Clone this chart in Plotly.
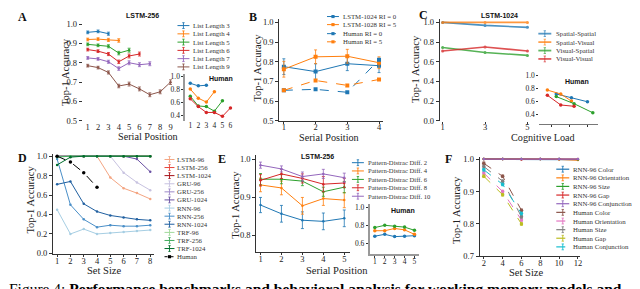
import plotly.graph_objects as go

W, H = 640, 289
SERIF = "Liberation Serif"
SANS = "Liberation Sans"

def PX(x):
    return x / W

def PY(y):
    return 1 - y / H

# ---------------- data ----------------
# Panel A (LSTM-256, list length)
a_labels = ["List Length 3", "List Length 4", "List Length 5", "List Length 6", "List Length 7", "List Length 9"]
a_ll3 = [0.957, 0.962, 0.950]
a_ll4 = [0.920, 0.922, 0.918, 0.915]
a_ll5 = [0.895, 0.890, 0.885, 0.850, 0.865]
a_ll6 = [0.868, 0.860, 0.845, 0.805, 0.835, 0.845]
a_ll7 = [0.825, 0.820, 0.805, 0.770, 0.800, 0.790, 0.795]
a_ll9 = [0.785, 0.775, 0.750, 0.680, 0.690, 0.665, 0.635, 0.650, 0.700]
a_err = [0.007, 0.007, 0.008, 0.009, 0.010, 0.010, 0.010, 0.010, 0.012]
a_h3 = [0.89, 0.85, 0.86]
a_h4 = [0.80, 0.66, 0.60, 0.76]
a_h5 = [0.69, 0.54, 0.53, 0.46, 0.62]
a_h6 = [0.65, 0.53, 0.44, 0.44, 0.38, 0.51]

# Panel B (LSTM-1024 vs human, retention interval)
b_labels = ["LSTM-1024 RI = 0", "LSTM-1028 RI = 5", "Human RI = 0", "Human RI = 5"]
b_pos = [1, 2, 3, 4]
b_lstm_ri0 = [0.775, 0.750, 0.790, 0.780]
b_lstm_ri0_err = [0.040, 0.040, 0.035, 0.035]
b_lstm_ri5 = [0.762, 0.825, 0.828, 0.795]
b_lstm_ri5_err = [0.040, 0.035, 0.035, 0.030]
b_human_ri0 = [0.655, 0.660, 0.645, 0.810]
b_human_ri5 = [0.655, 0.705, 0.680, 0.710]

# Panel C (LSTM-1024, cognitive load)
c_labels = ["Spatial-Spatial", "Spatial-Visual", "Visual-Spatial", "Visual-Visual"]
c_load = [1, 3, 5]
c_ss = [1.000, 0.970, 0.950]
c_sv = [1.000, 1.000, 1.000]
c_vs = [0.745, 0.695, 0.665]
c_vv = [0.710, 0.750, 0.710]
c_h_ss_x = [2.5, 4.2, 6.0]
c_h_ss = [0.72, 0.66, 0.60]
c_h_sv_x = [1.5, 3.0, 4.2]
c_h_sv = [0.78, 0.72, 0.61]
c_h_vs_x = [2.5, 4.5, 6.6]
c_h_vs = [0.68, 0.57, 0.43]
c_h_vv_x = [1.5, 3.0, 4.5]
c_h_vv = [0.70, 0.55, 0.53]

# Panel D (set size)
d_labels = ["LSTM-96", "LSTM-256", "LSTM-1024", "GRU-96", "GRU-256", "GRU-1024",
            "RNN-96", "RNN-256", "RNN-1024", "TRF-96", "TRF-256", "TRF-1024", "Human"]
d_set = [1, 2, 3, 4, 5, 6, 7, 8]
d_lstm96 = [1.00, 1.00, 1.00, 1.00, 0.78, 0.67, 0.62, 0.56]
d_lstm256 = [1.00, 1.00, 1.00, 1.00, 1.00, 1.00, 1.00, 1.00]
d_lstm1024 = [1.00, 1.00, 1.00, 1.00, 1.00, 1.00, 1.00, 1.00]
d_gru96 = [1.00, 1.00, 1.00, 1.00, 1.00, 0.83, 0.73, 0.65]
d_gru256 = [1.00, 1.00, 1.00, 1.00, 1.00, 1.00, 1.00, 1.00]
d_gru1024 = [1.00, 1.00, 1.00, 1.00, 1.00, 1.00, 0.97, 0.84]
d_rnn96 = [0.45, 0.20, 0.25, 0.20, 0.21, 0.22, 0.23, 0.24]
d_rnn256 = [0.97, 0.50, 0.35, 0.27, 0.29, 0.28, 0.28, 0.29]
d_rnn1024 = [0.71, 0.74, 0.51, 0.43, 0.39, 0.37, 0.35, 0.34]
d_trf96 = [1.00, 1.00, 1.00, 1.00, 1.00, 1.00, 1.00, 1.00]
d_trf256 = [0.99, 1.00, 1.00, 1.00, 1.00, 1.00, 1.00, 1.00]
d_trf1024 = [0.91, 0.99, 1.00, 1.00, 1.00, 1.00, 1.00, 1.00]
d_human_set = [1, 2, 3, 4]
d_human = [1.00, 0.94, 0.83, 0.68]

# Panel E (pattern-distractor difference)
e_labels = ["Pattern-Distrac Diff. 2", "Pattern-Distrac Diff. 4", "Pattern-Distrac Diff. 6",
            "Pattern-Distrac Diff. 8", "Pattern-Distrac Diff. 10"]
e_pos = [1, 2, 3, 4, 5]
e_d2 = [0.880, 0.857, 0.840, 0.837, 0.845]
e_d4 = [0.933, 0.925, 0.878, 0.897, 0.893]
e_d6 = [0.948, 0.948, 0.943, 0.915, 0.927]
e_d8 = [0.945, 0.962, 0.950, 0.935, 0.938]
e_d10 = [0.985, 0.975, 0.955, 0.962, 0.952]
e_err2 = [0.020, 0.022, 0.022, 0.022, 0.022]
e_err4 = [0.018, 0.018, 0.022, 0.018, 0.020]
e_err6 = [0.015, 0.012, 0.012, 0.012, 0.015]
e_err8 = [0.015, 0.012, 0.012, 0.020, 0.012]
e_err10 = [0.008, 0.008, 0.012, 0.012, 0.012]
e_h2 = [0.680, 0.700, 0.675, 0.680, 0.685]
e_h4 = [0.740, 0.740, 0.765, 0.750, 0.700]
e_h6 = [0.775, 0.800, 0.790, 0.780, 0.745]

# Panel F (visual search)
f_labels = ["RNN-96 Color", "RNN-96 Orientation", "RNN-96 Size", "RNN-96 Gap", "RNN-96 Conjunction",
            "Human Color", "Human Orientation", "Human Size", "Human Gap", "Human Conjunction"]
f_set = [2, 4, 6, 8, 10, 12]
f_rnn_color = [1.000, 1.000, 1.000, 1.000, 1.000, 0.998]
f_rnn_orient = [1.000, 1.000, 1.000, 1.000, 0.999, 0.997]
f_rnn_size = [1.000, 1.000, 1.000, 1.000, 1.000, 0.999]
f_rnn_gap = [1.000, 1.000, 0.999, 1.000, 1.000, 1.000]
f_rnn_conj = [1.000, 1.000, 1.000, 1.000, 1.000, 1.000]
f_h_set = [2, 4, 6]
f_h_color = [0.987, 0.947, 0.842]
f_h_orient = [0.957, 0.900, 0.812]
f_h_size = [0.977, 0.932, 0.822]
f_h_gap = [0.947, 0.890, 0.800]
f_h_conj = [0.967, 0.922, 0.832]

TAB = ["#1f77b4", "#ff7f0e", "#2ca02c", "#d62728", "#9467bd",
       "#8c564b", "#e377c2", "#7f7f7f", "#bcbd22", "#17becf"]
D_COLORS = ["#f4a582", "#e8463a", "#a50f15", "#c7c2e0", "#9e8ac8", "#6a51a3",
            "#a6cee3", "#4a8fc8", "#1f5fa0", "#a1d99b", "#41ab5d", "#006d2c", "#000000"]

fig = go.Figure()
layout_axes = {}
shapes = []
annotations = []


def add_axes(n, x0, x1, y0, y1, xr, yr, xticks, yticks, xshow=True, yshow=True,
             xline=False, yline=False, xlinecolor="#333", ylinecolor="#333",
             xlinewidth=0.8, ylinewidth=0.8, tfs=8.5, xtickvals_labels=True, xticklen=2, yticklen=3,
             xstand=-3):
    sx = "" if n == 1 else str(n)
    layout_axes["xaxis" + sx] = dict(
        domain=[PX(x0), PX(x1)], range=xr, anchor="y" + sx,
        tickvals=xticks, showticklabels=xtickvals_labels, ticks="outside" if xticklen else "",
        ticklen=max(xticklen, 1), tickwidth=0.8, tickcolor="#333", showgrid=False, zeroline=False,
        showline=xline, linecolor=xlinecolor, linewidth=xlinewidth, ticklabelstandoff=xstand,
        tickfont=dict(family=SERIF, size=tfs, color="#222"), visible=xshow)
    layout_axes["yaxis" + sx] = dict(
        domain=[PY(y1), PY(y0)], range=yr, anchor="x" + sx,
        tickvals=yticks, ticktext=["%.1f" % v for v in yticks], ticks="outside" if yticklen else "",
        ticklen=max(yticklen, 1), tickwidth=0.8, tickcolor="#333", showgrid=False, zeroline=False,
        showline=yline, linecolor=ylinecolor, linewidth=ylinewidth,
        tickfont=dict(family=SERIF, size=tfs, color="#222"), visible=yshow)
    return "x" + sx, "y" + sx


def line(xa, ya, x, y, color, err=None, dash="solid", width=1.0, msize=3, symbol="circle",
         opacity=1.0, mode="lines+markers"):
    kw = {}
    if err is not None:
        kw["error_y"] = dict(type="data", array=err, thickness=0.8, width=1.5, color=color)
    fig.add_trace(go.Scatter(x=x, y=y, xaxis=xa, yaxis=ya, mode=mode, opacity=opacity,
                             line=dict(color=color, width=width, dash=dash),
                             marker=dict(color=color, size=msize, symbol=symbol),
                             showlegend=False, hoverinfo="skip", **kw))


def text(x, y, s, size=8, family=SERIF, bold=False, color="#222", angle=0, xanchor="center",
         yanchor="middle"):
    if bold:
        s = "<b>" + s + "</b>"
    annotations.append(dict(x=PX(x), y=PY(y), xref="paper", yref="paper", text=s, showarrow=False,
                            font=dict(family=family, size=size, color=color), textangle=angle,
                            xanchor=xanchor, yanchor=yanchor, borderpad=0))


def leg(x0, x1, y, color, label, tx, dash="solid", width=1.0, cap=True, square=False, fs=6.8,
        opacity=1.0):
    shapes.append(dict(type="line", xref="paper", yref="paper", x0=PX(x0), x1=PX(x1), y0=PY(y), y1=PY(y),
                       line=dict(color=color, width=width, dash=dash), opacity=opacity))
    xm = (x0 + x1) / 2
    if cap:
        shapes.append(dict(type="line", xref="paper", yref="paper", x0=PX(xm), x1=PX(xm),
                           y0=PY(y - 3), y1=PY(y + 3), line=dict(color=color, width=0.9), opacity=opacity))
        shapes.append(dict(type="line", xref="paper", yref="paper", x0=PX(xm - 1.2), x1=PX(xm + 1.2),
                           y0=PY(y - 3), y1=PY(y - 3), line=dict(color=color, width=0.8), opacity=opacity))
        shapes.append(dict(type="line", xref="paper", yref="paper", x0=PX(xm - 1.2), x1=PX(xm + 1.2),
                           y0=PY(y + 3), y1=PY(y + 3), line=dict(color=color, width=0.8), opacity=opacity))
    if square:
        shapes.append(dict(type="rect", xref="paper", yref="paper", x0=PX(xm - 1.6), x1=PX(xm + 1.6),
                           y0=PY(y - 1.6), y1=PY(y + 1.6), fillcolor=color, line=dict(width=0)))
    text(tx, y, label, size=fs, xanchor="left", color="#333")


# ---------------- Panel A ----------------
xa, ya = add_axes(1, 75, 168, 10, 116, [0.52, 9.48], [0.485, 1.017],
                  list(range(1, 10)), [0.5, 0.6, 0.7, 0.8, 0.9, 1.0], xticklen=0)
a_series = [a_ll3, a_ll4, a_ll5, a_ll6, a_ll7, a_ll9]
for i, s in enumerate(a_series):
    xs = list(range(1, len(s) + 1))
    line(xa, ya, xs, s, TAB[i], err=a_err[:len(s)], msize=2.5)
xa, ya = add_axes(2, 178, 228, 65, 113, [0.4, 6.6], [0.31, 1.03], [1, 2, 3, 4, 5, 6],
                  [0.4, 0.6, 0.8, 1.0], yline=True, ylinecolor="#999", ylinewidth=2, tfs=7.5,
                  xticklen=0, yticklen=2, xstand=-1)
for i, s in enumerate([a_h3, a_h4, a_h5, a_h6]):
    line(xa, ya, list(range(1, len(s) + 1)), s, TAB[i], msize=3.5)
text(135, 5, "LSTM-256", size=7, family=SANS, bold=True, color="#111")
text(214, 69, "Human", size=7, family=SANS, bold=True, color="#111")
text(15, 6, "A", size=12, bold=True, color="#111")
text(57, 63, "Top-1 Accuracy", size=10.5, angle=-90)
text(140, 129.5, "Serial Position", size=10.2)
for i, lab in enumerate(a_labels):
    leg(170, 182, [15, 23.5, 32, 40.5, 49, 57.5][i], TAB[i], lab, 185)

# ---------------- Panel B ----------------
xa, ya = add_axes(3, 272, 376, 8, 113, [0.852, 4.12], [0.5, 1.018], b_pos,
                  [0.5, 0.6, 0.7, 0.8, 0.9, 1.0], xline=True, yline=True, xstand=-4)
line(xa, ya, b_pos, b_lstm_ri0, TAB[0], err=b_lstm_ri0_err, msize=4, symbol="square")
line(xa, ya, b_pos, b_lstm_ri5, TAB[1], err=b_lstm_ri5_err, msize=4, symbol="square")
line(xa, ya, b_pos, b_human_ri0, TAB[0], dash="dash", msize=4, symbol="square")
line(xa, ya, b_pos, b_human_ri5, TAB[1], dash="dash", msize=4, symbol="square")
text(246, 6, "B", size=12, bold=True, color="#111")
text(250, 58, "Top-1 Accuracy", size=10.5, angle=-90)
text(322, 130, "Serial Position", size=10.2)
for i, lab in enumerate(b_labels):
    leg(320, 332, [5.7, 14, 23.3, 31.7][i], TAB[i % 2], lab, 335,
        dash="solid" if i < 2 else "dash", cap=False, square=True)

# ---------------- Panel C ----------------
xa, ya = add_axes(5, 433, 523, 8, 113, [0.86, 5.09], [0.0, 1.037], [1, 3, 5],
                  [0.0, 0.2, 0.4, 0.6, 0.8, 1.0], yline=True, xstand=-4)
for i, s in enumerate([c_ss, c_sv, c_vs, c_vv]):
    line(xa, ya, c_load, s, TAB[i], msize=3, width=1.6, opacity=0.8)
xa, ya = add_axes(6, 533, 592, 62, 116, [0.6, 7.2], [0.26, 1.07], [2, 4, 6],
                  [0.4, 0.6, 0.8, 1.0], xline=True, xlinecolor="#777", tfs=7.5,
                  xtickvals_labels=False, yticklen=2)
for i, (hx, hy) in enumerate([(c_h_ss_x, c_h_ss), (c_h_sv_x, c_h_sv), (c_h_vs_x, c_h_vs), (c_h_vv_x, c_h_vv)]):
    line(xa, ya, hx, hy, TAB[i], msize=3.5)
text(417, 4, "C", size=12, bold=True, color="#111")
text(493, 5, "LSTM-1024", size=7, family=SANS, bold=True, color="#111")
text(571, 72, "Human", size=7, family=SANS, bold=True, color="#111")
text(409, 60, "Top-1 Accuracy", size=10.5, angle=-90)
text(537, 130, "Cognitive Load", size=10.2)
for i, lab in enumerate(c_labels):
    leg(532, 545, [23.3, 32, 40.7, 49.3][i], TAB[i], lab, 549, width=1.8, opacity=0.75)

# ---------------- Panel D ----------------
xa, ya = add_axes(7, 45, 146, 147, 250, [0.68, 8.25], [-0.007, 1.023], d_set,
                  [0.0, 0.2, 0.4, 0.6, 0.8, 1.0], xline=True, yline=True)
d_series = [d_lstm96, d_lstm256, d_lstm1024, d_gru96, d_gru256, d_gru1024,
            d_rnn96, d_rnn256, d_rnn1024, d_trf96, d_trf256, d_trf1024]
for i, s in enumerate(d_series):
    line(xa, ya, d_set, s, D_COLORS[i], msize=2.5)
line(xa, ya, d_human_set, d_human, "#000000", dash="dash", msize=3.5)
text(15, 151, "D", size=12, bold=True, color="#111")
text(23, 194, "Top-1 Accuracy", size=10.5, angle=-90)
text(96, 266.5, "Set Size", size=10.5)
d_y = [152.7, 161, 169.3, 177.7, 186, 194.3, 202.7, 211, 219.3, 227.7, 236, 244.3, 252.7]
for i, lab in enumerate(d_labels):
    if i < 12:
        leg(157, 167, d_y[i], D_COLORS[i], lab, 169)
    else:
        leg(157, 167, d_y[i], "#000", lab, 169, dash="dot", cap=False, square=True)

# ---------------- Panel E ----------------
xa, ya = add_axes(8, 249, 343, 148, 248, [0.795, 5.27], [0.756, 1.012], e_pos,
                  [0.8, 0.9, 1.0], xline=True, yline=True)
e_series = [(e_d2, e_err2), (e_d4, e_err4), (e_d6, e_err6), (e_d8, e_err8), (e_d10, e_err10)]
for i, (s, er) in enumerate(e_series):
    line(xa, ya, e_pos, s, TAB[i], err=er, msize=2.5)
xa, ya = add_axes(9, 363, 412, 199, 250, [0.5, 5.43], [0.482, 1.03], e_pos,
                  [0.6, 0.8, 1.0], xline=True, yline=True, xlinecolor="#999", ylinecolor="#999",
                  xlinewidth=2, ylinewidth=2, tfs=7.5, xticklen=2, yticklen=2)
for i, s in enumerate([e_h2, e_h4, e_h6]):
    line(xa, ya, e_pos, s, TAB[i], msize=3.5)
text(215, 152, "E", size=12, bold=True, color="#111")
text(310, 150, "LSTM-256", size=7, family=SANS, bold=True, color="#111")
text(396, 205, "Human", size=7, family=SANS, bold=True, color="#111")
text(228, 199, "Top-1 Accuracy", size=10.5, angle=-90)
text(330, 266.5, "Serial Position", size=10.5)
for i, lab in enumerate(e_labels):
    leg(345, 357, [156, 164.5, 173.2, 181.8, 190.5][i], TAB[i], lab, 360, fs=6.6)

# ---------------- Panel F ----------------
xa, ya = add_axes(10, 473, 574, 150, 252.3, [1.545, 12.24], [0.7, 1.007], f_set,
                  [0.7, 0.8, 0.9, 1.0], xline=True, yline=True)
for i, s in enumerate([f_rnn_color, f_rnn_orient, f_rnn_size, f_rnn_gap, f_rnn_conj]):
    line(xa, ya, f_set, s, TAB[i], msize=2.5, width=1.2)
for i, s in enumerate([f_h_color, f_h_orient, f_h_size, f_h_gap, f_h_conj]):
    line(xa, ya, f_h_set, s, TAB[5 + i], dash="dash", msize=3.5, err=[0.004, 0.004, 0.004])
text(442, 152, "F", size=12, bold=True, color="#111")
text(450, 205, "Top-1 Accuracy", size=10.5, angle=-90)
text(520, 268.5, "Set Size", size=10.5)
f_y = [162.7, 171.6, 180.4, 189.3, 198.2, 207.1, 216, 224.9, 233.7, 242.6]
for i, lab in enumerate(f_labels):
    leg(550, 563, f_y[i], TAB[i], lab, 566, dash="solid" if i < 5 else "dash", width=1.2)

# ---------------- caption ----------------
text(0, 276, "Figure 4: <b>Performance benchmarks and behavioral analysis for working memory models and</b>",
     size=15.5, xanchor="left", yanchor="top", color="#000")

fig.update_layout(width=W, height=H, margin=dict(l=0, r=0, t=0, b=0),
                  font=dict(family=SERIF, size=9, color="#222"),
                  paper_bgcolor="white", plot_bgcolor="white", showlegend=False,
                  shapes=shapes, annotations=annotations, **layout_axes)
fig.write_html("out.html")
